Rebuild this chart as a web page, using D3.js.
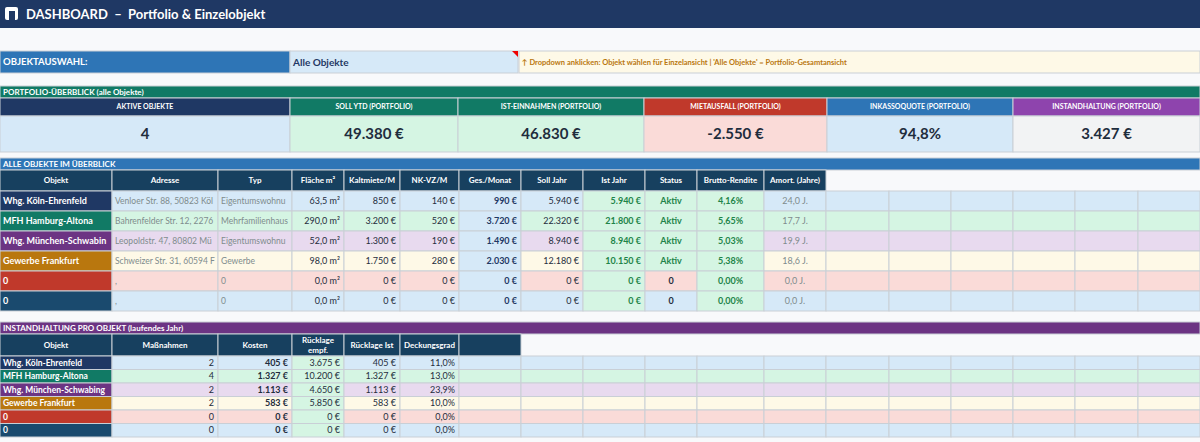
<!DOCTYPE html>
<html><head><meta charset="utf-8">
<script src="https://cdn.jsdelivr.net/npm/d3@7"></script>
<style>body{margin:0;background:#f8f9fb;} svg{display:block;font-family:Lato,"Open Sans",sans-serif;}</style>
</head><body><svg id="c" width="1200" height="442"></svg>
<script>
// ---- data ----
const kpiLabels = ['AKTIVE OBJEKTE','SOLL YTD (PORTFOLIO)','IST-EINNAHMEN (PORTFOLIO)','MIETAUSFALL (PORTFOLIO)','INKASSOQUOTE (PORTFOLIO)','INSTANDHALTUNG (PORTFOLIO)'];
const kpiValues = ['4','49.380 €','46.830 €','-2.550 €','94,8%','3.427 €'];
const objects = ['Whg. Köln-Ehrenfeld','MFH Hamburg-Altona','Whg. München-Schwabing','Gewerbe Frankfurt','0','0'];
const addresses = ['Venloer Str. 88, 50823 Köln','Bahrenfelder Str. 12, 22765 Hamburg','Leopoldstr. 47, 80802 München','Schweizer Str. 31, 60594 Frankfurt',',',','];
const types = ['Eigentumswohnung','Mehrfamilienhaus','Eigentumswohnung','Gewerbe','0','0'];
const area = [63.5, 290.0, 52.0, 98.0, 0, 0];
const coldRent = [850, 3200, 1300, 1750, 0, 0];
const serviceCharge = [140, 520, 190, 280, 0, 0];
const monthly = [990, 3720, 1490, 2030, 0, 0];
const targetYear = [5940, 22320, 8940, 12180, 0, 0];
const actualYear = [5940, 21800, 8940, 10150, 0, 0];
const status = ['Aktiv','Aktiv','Aktiv','Aktiv','0','0'];
const grossYield = [4.16, 5.65, 5.03, 5.38, 0, 0];
const amort = [24.0, 17.7, 19.9, 18.6, 0, 0];
const measures = [2, 4, 2, 2, 0, 0];
const costs = [405, 1327, 1113, 583, 0, 0];
const reserveRec = [3675, 10200, 4650, 5850, 0, 0];
const reserveAct = [405, 1327, 1113, 583, 0, 0];
const coverage = [11.0, 13.0, 23.9, 10.0, 0, 0];
const mainHeads = ['Objekt','Adresse','Typ','Fläche m²','Kaltmiete/M','NK-VZ/M','Ges./Monat','Soll Jahr','Ist Jahr','Status','Brutto-Rendite','Amort. (Jahre)'];
const maintHeads = [['Objekt'],['Maßnahmen'],['Kosten'],['Rücklage','empf.'],['Rücklage Ist'],['Deckungsgrad'],['']];
const note = "↑ Dropdown anklicken: Objekt wählen für Einzelansicht  |  'Alle Objekte' = Portfolio-Gesamtansicht";

// ---- style ----
const objColor = ['#1f3864','#117a65','#6c3483','#b9770e','#c0392b','#1a4a6e'];
const tint = ['#d6e9f8','#d5f5e3','#e8daef','#fef9e7','#fadbd8','#d6e9f8'];
const GREEN = '#d5f5e3', BLUE = '#d6e9f8', HEAD = '#17405f';
const colX = [0,112,218,292,344,400,459,521,583,645,697,764,826,889,951,1013,1075,1138,1200];
const kpiX = [0,290,458,644,827,1013,1200];
const kpiHeadColor = ['#1f3864','#117a65','#117a65','#c0392b','#2e75b6','#8e44ad'];
const kpiBg = ['#d6e9f8','#d5f5e3','#d5f5e3','#fadbd8','#d6e9f8','#f2f3f4'];

const loc = d3.formatLocale({decimal:',',thousands:'.',grouping:[3],currency:['','']});
const eur = v => loc.format(',.0f')(v) + ' €';
const dec1 = v => loc.format(',.1f')(v);
const pct2 = v => loc.format('.2f')(v) + '%';

const svg = d3.select('#c');
const grid = '#c9cfd6';

function cell(x0, x1, y0, y1, fill, txt, o = {}) {
  svg.append('rect').attr('x', x0).attr('y', y0).attr('width', x1 - x0).attr('height', y1 - y0)
    .attr('fill', fill).attr('stroke', o.stroke || grid).attr('stroke-width', 1);
  if (txt === undefined || txt === '') return;
  const lines = Array.isArray(txt) ? txt : [String(txt)];
  const anchor = o.align || 'middle';
  const tx = anchor === 'start' ? x0 + 3 : anchor === 'end' ? x1 - 4 : (x0 + x1) / 2;
  const t = svg.append('text').attr('x', tx).attr('text-anchor', anchor)
    .attr('font-size', o.size || 9).attr('font-weight', o.bold ? 'bold' : 'normal')
    .attr('fill', o.color || '#1f2d3d');
  const mid = (y0 + y1) / 2, lh = (o.size || 9) + 2;
  lines.forEach((l, i) => t.append('tspan').attr('x', tx)
    .attr('y', mid + (i - (lines.length - 1) / 2) * lh).attr('dy', '0.35em').text(l));
  if (o.fit) {
    // cut text at the cell border like a spreadsheet does
    const span = t.select('tspan');
    let s = lines[0];
    while (s.length > 1 && span.node().getComputedTextLength() > x1 - x0 - 5) {
      s = s.slice(0, -1); span.text(s);
    }
  }
}

// title bar
svg.append('rect').attr('width', 1200).attr('height', 28).attr('fill', '#1f3864');
svg.append('rect').attr('x', 5).attr('y', 7).attr('width', 13).attr('height', 13).attr('rx', 2).attr('fill', '#fff');
svg.append('rect').attr('x', 9).attr('y', 11).attr('width', 6).attr('height', 9).attr('fill', '#1f3864');
svg.append('text').attr('x', 26).attr('y', 19).attr('fill', '#fff').attr('font-size', 13).attr('font-weight', 'bold')
  .attr('xml:space', 'preserve').text('DASHBOARD  –  Portfolio & Einzelobjekt');

// selection row
cell(0, 290, 51, 73, '#2e75b6', 'OBJEKTAUSWAHL:', {align:'start', bold:true, color:'#fff', size:9.5});
cell(290, 518, 51, 73, BLUE, 'Alle Objekte', {align:'start', bold:true, color:'#1f3864', size:10});
svg.append('path').attr('d', 'M512,51 L518,51 L518,57 Z').attr('fill', '#e00');
cell(519, 1200, 51, 73, '#fef9e7', note, {align:'start', bold:true, color:'#b9770e', size:7.5});

// KPI block
cell(0, 1200, 86, 98, '#117a65', 'PORTFOLIO-ÜBERBLICK  (alle Objekte)', {align:'start', bold:true, color:'#fff', size:8});
kpiLabels.forEach((l, i) => {
  cell(kpiX[i], kpiX[i + 1], 98, 116, kpiHeadColor[i], l, {bold:true, color:'#fff', size:7});
  cell(kpiX[i], kpiX[i + 1], 116, 152, kpiBg[i], kpiValues[i], {bold:true, color:'#1f2d3d', size:15});
});

// main table
cell(0, 1200, 158, 170, '#2e75b6', 'ALLE OBJEKTE IM ÜBERBLICK', {align:'start', bold:true, color:'#fff', size:8});
mainHeads.forEach((h, i) => cell(colX[i], colX[i + 1], 170, 191, HEAD, h, {bold:true, color:'#fff', size:8}));
const rowY = d3.scaleBand().domain(d3.range(objects.length)).range([191, 311]);
objects.forEach((o, r) => {
  const y0 = rowY(r), y1 = y0 + rowY.bandwidth(), tc = tint[r];
  const vals = [
    [o, objColor[r], {align:'start', bold:true, color:'#fff', size:9, fit:true}],
    [addresses[r], tc, {align:'start', color:'#7f8c8d', size:8.5, fit:true}],
    [types[r], tc, {align:'start', color:'#7f8c8d', size:8.5, fit:true}],
    [dec1(area[r]) + ' m²', tc, {align:'end'}],
    [eur(coldRent[r]), tc, {align:'end'}],
    [eur(serviceCharge[r]), tc, {align:'end'}],
    [eur(monthly[r]), BLUE, {align:'end', bold:true, color:'#1f3864'}],
    [eur(targetYear[r]), tc, {align:'end'}],
    [eur(actualYear[r]), GREEN, {align:'end', bold:true, color:'#1e8449'}],
    [status[r], status[r] === 'Aktiv' ? GREEN : tc, {bold:true, color: status[r] === 'Aktiv' ? '#1e8449' : '#1f2d3d'}],
    [pct2(grossYield[r]), GREEN, {bold:true, color:'#1e8449'}],
    [dec1(amort[r]) + ' J.', tc, {color:'#7f8c8d'}]
  ];
  vals.forEach((v, i) => cell(colX[i], colX[i + 1], y0, y1, v[1], v[0], v[2]));
  for (let i = 12; i < colX.length - 1; i++) cell(colX[i], colX[i + 1], y0, y1, tc, '');
});

// maintenance table
cell(0, 1200, 322, 334, '#6c3483', 'INSTANDHALTUNG PRO OBJEKT  (laufendes Jahr)', {align:'start', bold:true, color:'#fff', size:8});
maintHeads.forEach((h, i) => cell(colX[i], colX[i + 1], 334, 356, HEAD, h, {bold:true, color:'#fff', size:8}));
const rowY2 = d3.scaleBand().domain(d3.range(objects.length)).range([356, 437]);
objects.forEach((o, r) => {
  const y0 = rowY2(r), y1 = y0 + rowY2.bandwidth(), tc = tint[r];
  const vals = [
    [o, objColor[r], {align:'start', bold:true, color:'#fff', size:8.5, fit:true}],
    [measures[r], tc, {align:'end'}],
    [eur(costs[r]), tc, {align:'end', bold:true}],
    [eur(reserveRec[r]), GREEN, {align:'end'}],
    [eur(reserveAct[r]), tc, {align:'end'}],
    [dec1(coverage[r]) + '%', tc, {align:'end'}]
  ];
  vals.forEach((v, i) => cell(colX[i], colX[i + 1], y0, y1, v[1], v[0], v[2]));
  for (let i = 6; i < colX.length - 1; i++) cell(colX[i], colX[i + 1], y0, y1, tc, '');
});
</script></body></html>
